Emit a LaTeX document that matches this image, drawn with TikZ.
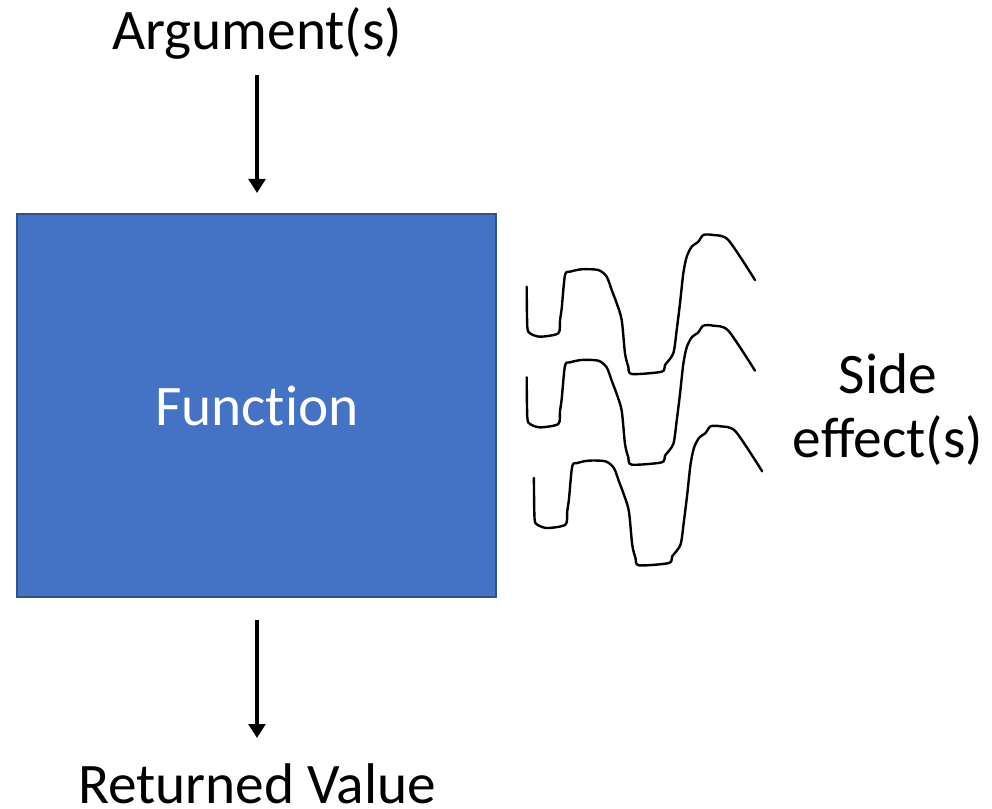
\documentclass[tikz,border=0pt]{standalone}
\usepackage{fontspec}
\setmainfont[Ligatures={NoCommon}]{Carlito}
\usetikzlibrary{arrows.meta}
\definecolor{boxfill}{HTML}{4472C4}
\definecolor{boxline}{HTML}{2F528F}
\tikzset{
  lbl/.style={font=\fontsize{43}{52}\selectfont, inner sep=0pt, anchor=base},
  fnbox/.style={draw=boxline, fill=boxfill, line width=1.5pt},
  flow/.style={line width=3pt, -{Triangle[length=10.5pt,width=12.5pt]}},
  wave/.style={line width=1.8pt, line join=round, line cap=round},
}
\newcommand{\wavepath}{plot[smooth, tension=0.45] coordinates {
 (526.7,286.7) (527.3,326.7) (530,333.3) (540,336.7) (558.3,333.3) (560,320)
 (561.7,308.3) (565,275) (570,271.7) (581.7,269.3) (598.3,270) (606.7,276.7)
 (611.7,290) (616.7,303.3) (621.7,320) (625,353.3) (628.3,366.7) (631.7,374)
 (661.7,371.7) (665,365) (673.3,353.3) (676.7,330) (680,303.3) (683.3,273.3)
 (686.7,256.7) (691.7,246.7) (698.3,241.7) (703.3,235) (713.3,235) (728.3,240)
 (755,280)}}
\begin{document}
\begin{tikzpicture}[x=0.75pt,y=-0.75pt]
\useasboundingbox (0,0) rectangle (992,809);
\draw[fnbox] (17,214) rectangle (496,597);
\node[lbl, text=white] (fn) at (257,425) {Function};
\node[lbl] (arg) at (257,50) {Argument(s)};
\node[lbl] (ret) at (257,803) {Returned Value};
\node[lbl] (side) at (888,393) {Side};
\node[lbl] (eff) at (888,457) {effect(s)};
\coordinate (a1) at (257,75);
\coordinate (a2) at (257,193);
\coordinate (b1) at (257,620);
\coordinate (b2) at (257,738);
\draw[flow] (a1) -- (a2);
\draw[flow] (b1) -- (b2);
\draw[wave] \wavepath;
\begin{scope}[yshift=-68pt]
\draw[wave] \wavepath;
\end{scope}
\begin{scope}[xshift=5.4pt,yshift=-143.5pt]
\draw[wave] \wavepath;
\end{scope}
\end{tikzpicture}
\end{document}
